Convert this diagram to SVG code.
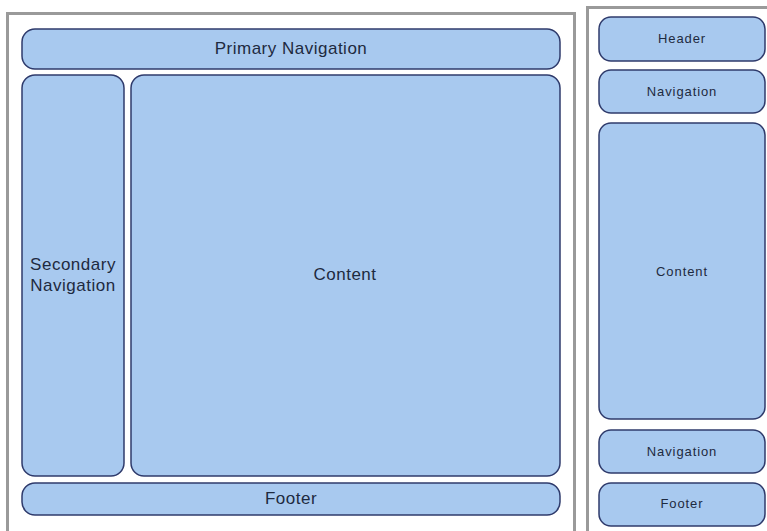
<svg xmlns="http://www.w3.org/2000/svg" width="767" height="531" viewBox="0 0 767 531">
<style>
.frame{fill:#fff;stroke:#9a9a9a;stroke-width:3}
.box{fill:#a8c9ef;stroke:#2f3b6c;stroke-width:1.5}
.t{font-family:"Liberation Sans",Arial,sans-serif;fill:#1e2a40;text-anchor:middle;dominant-baseline:central}
.big{font-size:17px;letter-spacing:0.5px}
.sm{font-size:13px;letter-spacing:0.9px}
</style>
<rect width="767" height="531" fill="#fff"/>
<rect class="frame" x="7.5" y="13.5" width="567" height="520"/>
<rect class="frame" x="587.5" y="7.5" width="185" height="530"/>
<g id="primary-nav"><rect class="box" x="22" y="29" width="538" height="40" rx="13"/><text class="t big" x="291" y="48">Primary Navigation</text></g>
<g id="secondary-nav"><rect class="box" x="22" y="75" width="102" height="401" rx="13"/><text class="t big" x="73" y="264">Secondary</text><text class="t big" x="73" y="285">Navigation</text></g>
<g id="content"><rect class="box" x="131" y="75" width="429" height="401" rx="13"/><text class="t big" x="345" y="274">Content</text></g>
<g id="footer"><rect class="box" x="22" y="483" width="538" height="32" rx="13"/><text class="t big" x="291" y="498">Footer</text></g>
<g id="m-header"><rect class="box" x="599" y="17" width="166" height="44" rx="12"/><text class="t sm" x="682" y="38">Header</text></g>
<g id="m-nav1"><rect class="box" x="599" y="70" width="166" height="43" rx="12"/><text class="t sm" x="682" y="91">Navigation</text></g>
<g id="m-content"><rect class="box" x="599" y="123" width="166" height="296" rx="12"/><text class="t sm" x="682" y="271">Content</text></g>
<g id="m-nav2"><rect class="box" x="599" y="430" width="166" height="43" rx="12"/><text class="t sm" x="682" y="451">Navigation</text></g>
<g id="m-footer"><rect class="box" x="599" y="483" width="166" height="43" rx="12"/><text class="t sm" x="682" y="503">Footer</text></g>
<g id="connectors"></g>
</svg>
